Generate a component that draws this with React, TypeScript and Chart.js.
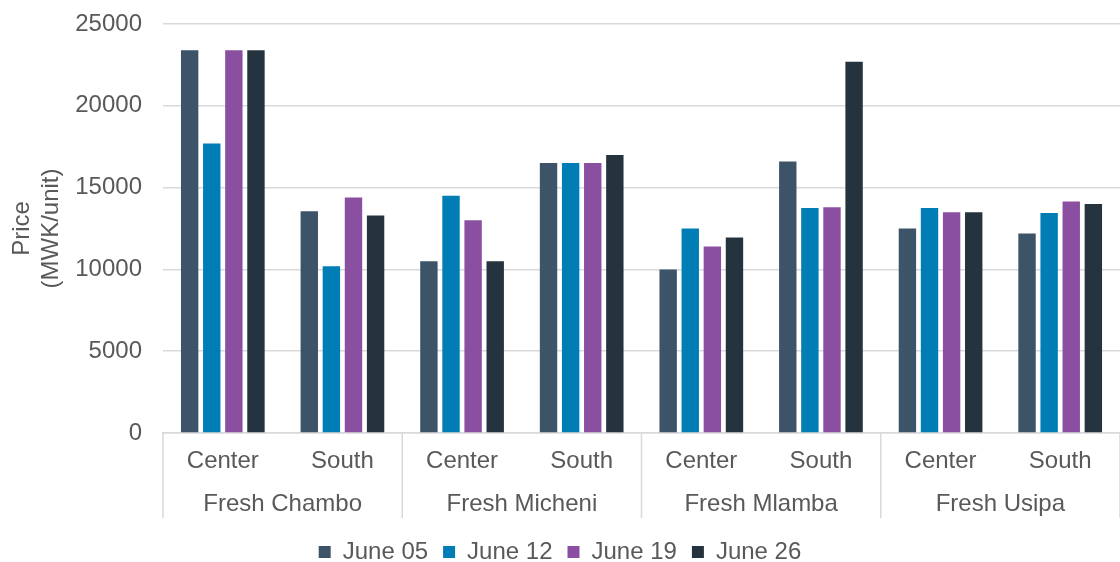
import React, { useEffect, useRef } from "react";
import { Chart, registerables } from "chart.js";

Chart.register(...registerables);

const CATEGORIES = ["Center", "South", "Center", "South", "Center", "South", "Center", "South"];
const GROUPS = ["Fresh Chambo", "Fresh Micheni", "Fresh Mlamba", "Fresh Usipa"];
const SERIES_NAMES = ["June 05", "June 12", "June 19", "June 26"];
const JUNE_05 = [23400, 13550, 10500, 16500, 10000, 16600, 12500, 12200];
const JUNE_12 = [17700, 10200, 14500, 16500, 12500, 13750, 13750, 13450];
const JUNE_19 = [23400, 14400, 13000, 16500, 11400, 13800, 13500, 14150];
const JUNE_26 = [23400, 13300, 10500, 17000, 11950, 22700, 13500, 14000];
const COLORS = ["#3D5468", "#007DB5", "#8A4FA0", "#25333F"];
const Y_TITLE = ["Price", "(MWK/unit)"];

const FONT = "'Liberation Sans', Arial, sans-serif";
const TEXT = "#595959";
const GRID = "#d9d9d9";
const FS = 24;

const groupPlugin = {
  id: "groupLabels",
  afterLayout(chart: any) {
    const lg = chart.legend;
    if (lg) {
      lg.top += 12;
      lg.bottom += 12;
    }
  },
  afterDraw(chart: any) {
    const x = chart.scales.x;
    const ctx = chart.ctx;
    const step = x.getPixelForValue(1) - x.getPixelForValue(0);
    const top = chart.chartArea.bottom;
    const bottom = top + 85;
    ctx.save();
    ctx.strokeStyle = GRID;
    ctx.lineWidth = 1.5;
    ctx.fillStyle = TEXT;
    ctx.font = `${FS}px ${FONT}`;
    ctx.textAlign = "center";
    ctx.textBaseline = "middle";
    GROUPS.forEach((g, i) => {
      const c = (x.getPixelForValue(2 * i) + x.getPixelForValue(2 * i + 1)) / 2;
      const l = c - step;
      const r = c + step;
      ctx.beginPath();
      ctx.moveTo(l, top);
      ctx.lineTo(l, bottom);
      if (i === GROUPS.length - 1) {
        ctx.moveTo(r, top);
        ctx.lineTo(r, bottom);
      }
      ctx.stroke();
      ctx.fillText(g, c, top + 71);
    });
    ctx.restore();
  },
};

export default function App() {
  const ref = useRef<HTMLCanvasElement>(null);
  useEffect(() => {
    if (!ref.current) return;
    const series = [JUNE_05, JUNE_12, JUNE_19, JUNE_26];
    const chart = new Chart(ref.current, {
      type: "bar",
      data: {
        labels: CATEGORIES,
        datasets: series.map((d, i) => ({
          label: SERIES_NAMES[i],
          data: d,
          backgroundColor: COLORS[i],
          borderWidth: 0,
          categoryPercentage: 0.739,
          barPercentage: 0.787,
        })),
      },
      options: {
        responsive: false,
        animation: false,
        layout: { padding: { top: 24, right: 0, left: 0, bottom: 0 } },
        plugins: {
          tooltip: { enabled: false },
          legend: {
            position: "bottom",
            labels: {
              font: { family: FONT, size: FS },
              color: TEXT,
              boxWidth: 12,
              boxHeight: 12,
              padding: 15,
            },
          },
        },
        scales: {
          x: {
            grid: { display: false, drawTicks: false },
            border: { display: true, color: GRID, width: 1.5 },
            ticks: { font: { family: FONT, size: FS }, color: TEXT, padding: 14, maxRotation: 0 },
            afterFit: (s: any) => {
              s.height = 80;
            },
          },
          y: {
            min: 0,
            max: 25000,
            ticks: {
              stepSize: 5000,
              font: { family: FONT, size: FS },
              color: TEXT,
              padding: 0,
              callback: (v: any) => String(v),
            },
            grid: {
              color: GRID,
              lineWidth: 1.5,
              drawTicks: true,
              tickLength: 21,
              tickColor: "rgba(0,0,0,0)",
            },
            border: { display: false },
            title: {
              display: true,
              text: Y_TITLE,
              font: { family: FONT, size: FS },
              color: TEXT,
              padding: { top: 8, bottom: 0 },
            },
            afterFit: (s: any) => {
              s.width = 163;
            },
          },
        },
      },
      plugins: [groupPlugin],
    });
    return () => chart.destroy();
  }, []);
  return (
    <canvas
      ref={ref}
      width={1120}
      height={562}
      style={{ position: "absolute", left: 0, top: 0, display: "block", background: "#fff" }}
    />
  );
}
